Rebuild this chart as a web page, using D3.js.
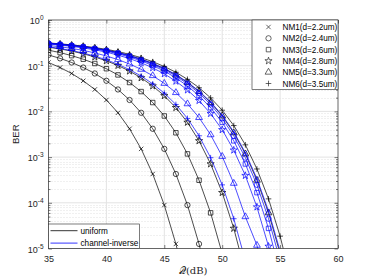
<!DOCTYPE html>
<html>
<head>
<meta charset="utf-8">
<script src="https://cdn.jsdelivr.net/npm/d3@7"></script>
<style>
body { margin: 0; background: #fff; }
</style>
</head>
<body>
<script>
const width = 374;
const height = 280;
const margin = {left: 48.5, right: 36, top: 20, bottom: 31.5};

// SNR points (dB), one marker per point
const qdB = [35, 36, 37, 38, 39, 40, 41, 42, 43, 44, 45, 46, 47, 48, 49, 50, 51, 52, 53, 54, 55, 56];

// log10(BER), uniform allocation
const logUniformNM1 = [-0.93, -1.04, -1.17, -1.33, -1.52, -1.75, -2.03, -2.38, -2.82, -3.37, -4.05, -4.90, -5.95];
const logUniformNM2 = [-0.765, -0.84, -0.93, -1.04, -1.17, -1.33, -1.52, -1.75, -2.03, -2.38, -2.82, -3.37, -4.05, -4.90, -5.95];
const logUniformNM3 = [-0.66, -0.713, -0.78, -0.858, -0.952, -1.066, -1.202, -1.368, -1.566, -1.806, -2.10, -2.468, -2.93, -3.506, -4.22, -5.11];
const logUniformNM4 = [-0.596, -0.634, -0.68, -0.739, -0.81, -0.894, -0.996, -1.118, -1.266, -1.444, -1.658, -1.918, -2.24, -2.644, -3.15, -3.778, -4.56, -5.53];
const logUniformNM5 = [-0.509, -0.53, -0.555, -0.582, -0.618, -0.66, -0.713, -0.78, -0.858, -0.952, -1.066, -1.202, -1.368, -1.566, -1.806, -2.10, -2.468, -2.93, -3.506, -4.22, -5.11];
const logUniformNM6 = [-0.502, -0.521, -0.545, -0.57, -0.603, -0.642, -0.69, -0.752, -0.825, -0.912, -1.018, -1.144, -1.298, -1.482, -1.704, -1.974, -2.31, -2.732, -3.26, -3.914, -4.73, -5.74];

// log10(BER), channel-inverse allocation
const logInverseNM1 = [-0.508, -0.529, -0.554, -0.58, -0.616, -0.658, -0.71, -0.776, -0.854, -0.947, -1.06, -1.194, -1.359, -1.555, -1.792, -2.083, -2.446, -2.903, -3.472, -4.178, -5.053];
const logInverseNM2 = [-0.512, -0.534, -0.559, -0.587, -0.624, -0.668, -0.723, -0.791, -0.872, -0.969, -1.086, -1.226, -1.397, -1.601, -1.848, -2.153, -2.534, -3.013, -3.608, -4.348, -5.268];
const logInverseNM3 = [-0.517, -0.54, -0.565, -0.596, -0.634, -0.68, -0.739, -0.81, -0.894, -0.996, -1.118, -1.266, -1.444, -1.658, -1.918, -2.24, -2.644, -3.15, -3.778, -4.56, -5.53];
const logInverseNM4 = [-0.526, -0.551, -0.577, -0.612, -0.653, -0.703, -0.769, -0.845, -0.936, -1.047, -1.178, -1.34, -1.532, -1.764, -2.048, -2.402, -2.848, -3.404, -4.093, -4.953, -6.0];
const logInverseNM5 = [-0.558, -0.586, -0.622, -0.665, -0.72, -0.788, -0.867, -0.963, -1.079, -1.218, -1.387, -1.589, -1.834, -2.135, -2.512, -2.985, -3.574, -4.305, -4.93, -6.1];
const logInverseNM6 = [-0.587, -0.624, -0.668, -0.723, -0.791, -0.872, -0.969, -1.086, -1.226, -1.397, -1.601, -1.848, -2.153, -2.534, -3.013, -3.608, -4.348, -5.268];

const nodeLabels = ["NM1(d=2.2um)", "NM2(d=2.4um)", "NM3(d=2.6um)", "NM4(d=2.8um)", "NM5(d=3.3um)", "NM6(d=3.5um)"];
const markerTypes = ["x", "o", "s", "p", "^", "+"];
const schemeLabels = ["uniform", "channel-inverse"];
const schemeColors = ["#000000", "#0000ff"];

const uniformSeries = [logUniformNM1, logUniformNM2, logUniformNM3, logUniformNM4, logUniformNM5, logUniformNM6];
const inverseSeries = [logInverseNM1, logInverseNM2, logInverseNM3, logInverseNM4, logInverseNM5, logInverseNM6];

const xTicks = [35, 40, 45, 50, 55, 60];
const yExponents = [0, -1, -2, -3, -4, -5];

const axisColor = "#262626";
const font = "'Liberation Sans', Arial, sans-serif";

const x = d3.scaleLinear().domain([35, 60]).range([margin.left, width - margin.right]);
const y = d3.scaleLog().domain([1e-5, 1]).range([height - margin.bottom, margin.top]);

const svg = d3.select("body").append("svg")
  .attr("width", width)
  .attr("height", height)
  .attr("font-family", font);

const x0 = x.range()[0], x1 = x.range()[1];
const y0 = y.range()[1], y1 = y.range()[0];

svg.append("clipPath").attr("id", "plot-clip")
  .append("rect").attr("x", x0).attr("y", y0).attr("width", x1 - x0).attr("height", y1 - y0);

// minor log grid (dotted)
const minorY = [];
for (let e = -5; e < 0; e++) for (let m = 2; m <= 9; m++) minorY.push(m * Math.pow(10, e));

svg.append("g")
  .selectAll("line")
  .data(minorY)
  .join("line")
  .attr("x1", x0).attr("x2", x1)
  .attr("y1", d => Math.round(y(d)) + 0.5).attr("y2", d => Math.round(y(d)) + 0.5)
  .attr("stroke", "#d9d9d9")
  .attr("stroke-width", 0.8)
  .attr("stroke-dasharray", "1,2");

// major grid
svg.append("g")
  .selectAll("line")
  .data(yExponents.slice(1, -1))
  .join("line")
  .attr("x1", x0).attr("x2", x1)
  .attr("y1", d => y(Math.pow(10, d))).attr("y2", d => y(Math.pow(10, d)))
  .attr("stroke", "#e3e3e3");

svg.append("g")
  .selectAll("line")
  .data(xTicks.slice(1, -1))
  .join("line")
  .attr("x1", d => x(d)).attr("x2", d => x(d))
  .attr("y1", y0).attr("y2", y1)
  .attr("stroke", "#e3e3e3");

function markerPath(type) {
  switch (type) {
    case "x": return "M-2.2,-2.2L2.2,2.2M-2.2,2.2L2.2,-2.2";
    case "+": return "M-2.8,0L2.8,0M0,-2.8L0,2.8";
    case "o": return d3.symbol(d3.symbolCircle, 22)();
    case "s": return d3.symbol(d3.symbolSquare, 20)();
    case "p": return d3.symbol(d3.symbolStar, 16)();
    case "^": return d3.symbol(d3.symbolTriangle, 20)();
  }
}

const line = d3.line()
  .x((d, i) => x(qdB[i]))
  .y(d => y(Math.pow(10, d)));

const plot = svg.append("g").attr("clip-path", "url(#plot-clip)");

[uniformSeries, inverseSeries].forEach((series, s) => {
  series.forEach((values, k) => {
    plot.append("path")
      .datum(values)
      .attr("fill", "none")
      .attr("stroke", schemeColors[s])
      .attr("stroke-width", 0.7)
      .attr("d", line);

    plot.append("g")
      .selectAll("path")
      .data(values.map((v, i) => ({q: qdB[i], v})).filter(d => d.v >= -5.02))
      .join("path")
      .attr("transform", d => `translate(${x(d.q)},${y(Math.pow(10, d.v))})`)
      .attr("d", markerPath(markerTypes[k]))
      .attr("fill", "none")
      .attr("stroke", schemeColors[s])
      .attr("stroke-width", 0.7);
  });
});

// axes with inward ticks
svg.append("g")
  .attr("transform", `translate(0,${y1})`)
  .call(d3.axisBottom(x).tickValues(xTicks).tickSize(-3.5).tickPadding(7))
  .call(g => g.select(".domain").remove())
  .call(g => g.selectAll("line").attr("stroke", axisColor).attr("stroke-width", 0.6))
  .call(g => g.selectAll("text").attr("fill", axisColor).attr("font-size", 9).attr("font-family", font));

svg.append("g")
  .attr("transform", `translate(0,${y0})`)
  .call(d3.axisTop(x).tickValues(xTicks).tickSize(-3.5).tickFormat(""))
  .call(g => g.select(".domain").remove())
  .call(g => g.selectAll("line").attr("stroke", axisColor).attr("stroke-width", 0.6));

[[x0, d3.axisLeft], [x1, d3.axisRight]].forEach(([pos, axisFn]) => {
  svg.append("g")
    .attr("transform", `translate(${pos},0)`)
    .call(axisFn(y).tickValues(yExponents.map(e => Math.pow(10, e))).tickSize(-3.5).tickFormat(""))
    .call(g => g.select(".domain").remove())
    .call(g => g.selectAll("line").attr("stroke", axisColor).attr("stroke-width", 0.6));
  svg.append("g")
    .attr("transform", `translate(${pos},0)`)
    .call(axisFn(y).tickValues(minorY).tickSize(-2).tickFormat(""))
    .call(g => g.select(".domain").remove())
    .call(g => g.selectAll("line").attr("stroke", axisColor).attr("stroke-width", 0.6));
});

svg.append("rect")
  .attr("x", x0).attr("y", y0).attr("width", x1 - x0).attr("height", y1 - y0)
  .attr("fill", "none").attr("stroke", axisColor).attr("stroke-width", 0.7);

// y tick labels as 10^k
const yLabels = svg.append("g")
  .selectAll("text")
  .data(yExponents)
  .join("text")
  .attr("x", x0 - 5)
  .attr("y", d => y(Math.pow(10, d)) + 4)
  .attr("text-anchor", "end")
  .attr("fill", axisColor)
  .attr("font-size", 9);
yLabels.append("tspan").text("10");
yLabels.append("tspan").attr("dy", -4).attr("font-size", 6.5).text(d => d);

svg.append("text")
  .attr("transform", `translate(19,${(y0 + y1) / 2}) rotate(-90)`)
  .attr("text-anchor", "middle")
  .attr("fill", axisColor)
  .attr("font-size", 9.5)
  .text("BER");

svg.append("text")
  .attr("x", (x0 + x1) / 2)
  .attr("y", 274)
  .attr("text-anchor", "middle")
  .attr("fill", axisColor)
  .attr("font-family", "'DejaVu Serif', 'Liberation Serif', serif")
  .attr("font-size", 10)
  .text("\u{1D4AC}(dB)");

// marker legend
const leg1 = svg.append("g");
leg1.append("rect")
  .attr("x", 252).attr("y", y0).attr("width", x1 - 252).attr("height", 69.5)
  .attr("fill", "#fff").attr("stroke", axisColor).attr("stroke-width", 0.6);
nodeLabels.forEach((label, k) => {
  const cy = y0 + 7 + k * 11.3;
  leg1.append("path")
    .attr("transform", `translate(268.5,${cy})`)
    .attr("d", markerPath(markerTypes[k]))
    .attr("fill", "none").attr("stroke", axisColor).attr("stroke-width", 0.7);
  leg1.append("text")
    .attr("x", 282.5).attr("y", cy + 3)
    .attr("font-size", 8.2).attr("fill", "#000")
    .text(label);
});

// scheme legend
const leg2 = svg.append("g");
leg2.append("rect")
  .attr("x", x0).attr("y", 224).attr("width", 91).attr("height", y1 - 224)
  .attr("fill", "#fff").attr("stroke", axisColor).attr("stroke-width", 0.6);
schemeLabels.forEach((label, s) => {
  const cy = 230.7 + s * 12.4;
  leg2.append("line")
    .attr("x1", x0 + 2).attr("x2", x0 + 29).attr("y1", cy).attr("y2", cy)
    .attr("stroke", schemeColors[s]).attr("stroke-width", 0.8);
  leg2.append("text")
    .attr("x", x0 + 32).attr("y", cy + 3)
    .attr("font-size", 8.2).attr("fill", "#000")
    .text(label);
});
</script>
</body>
</html>
